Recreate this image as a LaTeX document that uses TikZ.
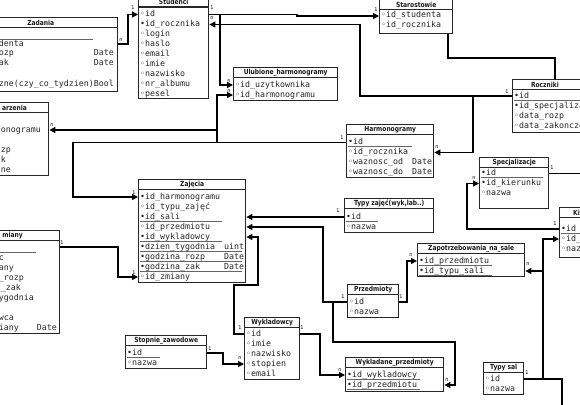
\documentclass[tikz,border=0pt]{standalone}
\usepackage{fontspec}
\setmainfont{DejaVu Sans}
\setmonofont{DejaVu Sans Mono}
\usepackage{tikz}
\usetikzlibrary{arrows.meta}

\newcommand{\ramka}[5]{%
        \node[ramka, minimum width=#4pt, minimum height=#5pt, anchor=north west] (#1) at (#2,#3) {};
        \draw[linia] ([yshift=-10.5pt]#1.north west) -- ([yshift=-10.5pt]#1.north east);
}
\newcommand{\wiersze}[3]{%
        \foreach \w [count=\i] in {#3}
                \node[wiersz] (#1-\i) at ([xshift=2pt, yshift=-#2pt-10pt*\i+10pt]#1.north west) {\w};
}
\newcommand{\podkr}[2]{%
        \draw[podkr] ([yshift=-2pt]#1.base west) -- ++(#2,0);
}

\begin{document}
\begin{tikzpicture}[x=1pt, y=-1pt,
        ramka/.style={draw=black!85, line width=1.4pt, fill=white, inner sep=0pt},
        linia/.style={draw=black!85, line width=1.4pt},
        wiersz/.style={font=\ttfamily\fontsize{8.3}{10}\selectfont, anchor=west, inner sep=0pt, text height=5.5pt, text depth=1.5pt, text=black!85},
        typ/.style={wiersz, anchor=east},
        tytul/.style={font=\fontsize{7}{8}\selectfont\bfseries, inner sep=0pt, xscale=0.85, text=black!90},
        etyk/.style={font=\fontsize{5}{5}\selectfont, inner sep=0pt},
        podkr/.style={draw=black!60, line width=0.6pt},
        pol/.style={draw=black, line width=1.2pt, -{Triangle[length=6pt,width=6pt]}},
        pol-/.style={draw=black, line width=1.2pt}]
        \useasboundingbox (0,0) rectangle (580,404);

        \ramka{zad}{-37}{17}{154}{74}
        \node[tytul] (zad-t) at ([yshift=-5.5pt]zad.north) {Zadania};
        \draw[podkr] (-5,39) -- (93,39);
        \node[typ] (zad-1) at (24,44) {denta};
        \node[typ] (zad-2) at (14,54) {ozp};
        \node[typ] (zad-2t) at (114,54) {Date};
        \node[typ] (zad-3) at (9,64) {ak};
        \node[typ] (zad-3t) at (114,64) {Date};
        \node[typ] (zad-5) at (114,84) {zne(czy\_co\_tydzien)Bool};

        \ramka{wyd}{-34}{102}{82}{73}
        \node[tytul, anchor=east] (wyd-t) at (27,107.5) {arzenia};
        \node[typ] (wyd-1) at (41,130) {onogramu};
        \node[typ] (wyd-3) at (11,150) {zp};
        \node[typ] (wyd-4) at (6,160) {k};
        \node[typ] (wyd-5) at (11,170) {ne};

        \ramka{zm}{-41}{230}{100}{103}
        \node[tytul, anchor=east] (zm-t) at (23,235.5) {miany};
        \draw[podkr] (-5,252) -- (36,252);
        \node[typ] (zm-2) at (4,258) {c};
        \node[typ] (zm-3) at (14,268) {any};
        \node[typ] (zm-4) at (24,278) {\_rozp};
        \node[typ] (zm-5) at (21,288) {\_zak};
        \node[typ] (zm-6) at (34,298) {ygodnia};
        \node[typ] (zm-8) at (14,318) {wca};
        \node[typ] (zm-9) at (19,328) {iany};
        \node[typ] (zm-9t) at (57,328) {Date};

        \ramka{stud}{138}{-3.5}{70}{101.5}
        \node[tytul] (stud-t) at ([yshift=-5.5pt]stud.north) {Studenci};
        \wiersze{stud}{18}{◦id, •id\_rocznika, ◦login, ◦haslo, ◦email, ◦imie, ◦nazwisko, ◦nr\_albumu, ◦pesel}

        \ramka{staro}{379}{-1}{73}{34}
        \node[tytul] (staro-t) at ([yshift=-5.5pt]staro.north) {Starostowie};
        \wiersze{staro}{17}{◦id\_studenta, ◦id\_rocznika}

        \ramka{ulub}{233}{67}{104}{33}
        \node[tytul] (ulub-t) at ([yshift=-5.5pt]ulub.north) {Ulubione\_harmonogramy};
        \wiersze{ulub}{18}{◦id\_uzytkownika, ◦id\_harmonogramu}

        \ramka{harm}{346}{124}{87}{53}
        \node[tytul] (harm-t) at ([yshift=-5.5pt]harm.north) {Harmonogramy};
        \wiersze{harm}{18.5}{•id, ◦id\_rocznika, ◦waznosc\_od, ◦waznosc\_do}
        \node[typ] (harm-3t) at ([xshift=-2pt]harm.east |- harm-3) {Date};
        \node[typ] (harm-4t) at ([xshift=-2pt]harm.east |- harm-4) {Date};
        \podkr{harm-1}{64}

        \ramka{rocz}{512}{79}{100}{53}
        \node[tytul] (rocz-t) at (545,84.5) {Roczniki};
        \wiersze{rocz}{17}{•id, •id\_specjaliza, ◦data\_rozp, ◦data\_zakoncze}
        \podkr{rocz-1}{66}

        \ramka{spec}{479}{157}{69}{51}
        \node[tytul] (spec-t) at ([yshift=-5.5pt]spec.north) {Specjalizacje};
        \wiersze{spec}{16.5}{•id, •id\_kierunku, ◦nazwa}
        \podkr{spec-1}{62}

        \ramka{kier}{559}{207}{60}{50}
        \node[tytul, anchor=west] (kier-t) at (573,212.5) {Kierunki};
        \wiersze{kier}{22}{•id, ◦id\_, ◦naz}
        \podkr{kier-1}{22}

        \ramka{zaj}{138}{179}{107}{103}
        \node[tytul] (zaj-t) at ([yshift=-5.5pt]zaj.north) {Zajęcia};
        \wiersze{zaj}{18}{•id\_harmonogramu, ◦id\_typu\_zajęć, •id\_sali, ◦id\_przedmiotu, •id\_wykladowcy, •dzien\_tygodnia, •godzina\_rozp, •godzina\_zak, ◦id\_zmiany}
        \node[typ] (zaj-6t) at ([xshift=-2pt]zaj.east |- zaj-6) {uint};
        \node[typ] (zaj-7t) at ([xshift=-2pt]zaj.east |- zaj-7) {Date};
        \node[typ] (zaj-8t) at ([xshift=-2pt]zaj.east |- zaj-8) {Date};
        \podkr{zaj-3}{82}
        \podkr{zaj-5}{82}
        \podkr{zaj-6}{102}
        \podkr{zaj-7}{102}
        \podkr{zaj-8}{102}

        \ramka{typz}{344}{198}{89}{34}
        \node[tytul] (typz-t) at ([yshift=-5.5pt]typz.north) {Typy zajęć(wyk,lab..)};
        \wiersze{typz}{19}{•id, ◦nazwa}
        \podkr{typz-1}{32}

        \ramka{zap}{417}{243}{107}{33}
        \node[tytul] (zap-t) at ([yshift=-5.5pt]zap.north) {Zapotrzebowania\_na\_sale};
        \wiersze{zap}{18}{•id\_przedmiotu, •id\_typu\_sali}
        \podkr{zap-1}{73}
        \podkr{zap-2}{73}

        \ramka{przed}{347}{284}{51}{33}
        \node[tytul] (przed-t) at ([yshift=-5.5pt]przed.north) {Przedmioty};
        \wiersze{przed}{18}{◦id, ◦nazwa}

        \ramka{wykl}{244}{317}{55}{62}
        \node[tytul] (wykl-t) at ([yshift=-5.5pt]wykl.north) {Wykladowcy};
        \wiersze{wykl}{17}{◦id, ◦imie, ◦nazwisko, ◦stopien, ◦email}

        \ramka{stop}{125}{335}{81}{33}
        \node[tytul] (stop-t) at ([yshift=-5.5pt]stop.north) {Stopnie\_zawodowe};
        \wiersze{stop}{18}{•id, ◦nazwa}
        \podkr{stop-1}{33}

        \ramka{wyklp}{345}{357}{98}{34}
        \node[tytul] (wyklp-t) at ([yshift=-5.5pt]wyklp.north) {Wykladane\_przedmioty};
        \wiersze{wyklp}{18}{•id\_wykladowcy, •id\_przedmiotu}
        \podkr{wyklp-1}{73}
        \podkr{wyklp-2}{73}

        \ramka{tsal}{483}{362}{40}{32}
        \node[tytul] (tsal-t) at ([yshift=-5.5pt]tsal.north) {Typy sal};
        \wiersze{tsal}{17}{◦id, ◦nazwa}

        \coordinate (z1) at (128,0);
        \coordinate (z2) at (297,0);
        \coordinate (z3) at (220,0);
        \coordinate (z4) at (360,0);
        \coordinate (z5) at (473,0);
        \coordinate (z6a) at (217,0);
        \coordinate (z6b) at (73,0);
        \coordinate (z8) at (323,0);
        \coordinate (z9a) at (333,0);
        \coordinate (z9b) at (455,342);
        \coordinate (z10) at (407,0);
        \coordinate (z11a) at (234,285);
        \coordinate (z11b) at (258,285);
        \coordinate (z12) at (320,0);
        \coordinate (z13) at (223,0);
        \coordinate (z14) at (118,0);
        \coordinate (z15) at (467,0);
        \coordinate (z16) at (590,0);
        \coordinate (z17a) at (562,410);
        \coordinate (z17b) at (543,0);
        \coordinate (z18a) at (448,58);
        \coordinate (z18b) at (555,58);

        \draw[pol] (zad.east |- zad-1) -| (z1 |- stud-1) -- (stud.west |- stud-1);
        \draw[pol] (stud.east |- stud-1) -- (z2 |- stud-1) -- (z2 |- staro-1) -- (staro.west |- staro-1);
        \draw[pol] (z3 |- stud-1) -- (z3 |- ulub-1) -- (ulub.west |- ulub-1);
        \draw[pol] (rocz.west |- rocz-1) -| (z4 |- stud-2) -- (stud.east |- stud-2);
        \draw[pol] (z5 |- rocz-1) |- (harm.east |- harm-2);
        \draw[pol-] (z18b |- rocz.north) -- (z18b) -- (z18a) -- (z18a |- staro.south);
        \draw[pol] (harm.west |- harm-1) -| (z6b |- zaj-1) -- (zaj.west |- zaj-1);
        \draw[pol] (z6a |- harm-1) -- (z6a |- ulub-2) -- (ulub.west |- ulub-2);
        \draw[pol] (z6a |- wyd-1) -- (wyd.east |- wyd-1);
        \draw[pol] (typz.west |- typz-1) -- (zaj.east |- typz-1);
        \draw[pol] (przed.west |- przed-1) -| (z8 |- zaj-4) -- (zaj.east |- zaj-4);
        \draw[pol] (z9a |- przed-1) |- (z9b) |- (wyklp.east |- wyklp-2);
        \draw[pol] (przed.east |- przed-1) -| (z10 |- zap-1) -- (zap.west |- zap-1);
        \draw[pol] (wykl.west |- wykl-1) -| (z11a) -- (z11b) |- (zaj.east |- zaj-5);
        \draw[pol] (wykl.east |- wykl-1) -| (z12 |- wyklp-1) -- (wyklp.west |- wyklp-1);
        \draw[pol] (stop.east |- stop-1) -| (z13 |- wykl-4) -- (wykl.west |- wykl-4);
        \draw[pol] ([yshift=-17pt]zm.north east) -| (z14 |- zaj-9) -- (zaj.west |- zaj-9);
        \draw[pol] (kier.west |- kier-1) -| (z15 |- spec-2) -- (spec.west |- spec-2);
        \draw[pol-] (spec.east |- spec-1) -- (z16 |- spec-1);
        \draw[pol-] (tsal.east |- tsal-1) -| (z17a);
        \draw[pol] (z17b |- tsal-1) |- (zap.east |- zap-2);
        \draw[pol] (z17b |- zap-2) |- (kier.west |- kier-2);

        \node[etyk] (e1) at (121,40) {n};
        \node[etyk] (e2) at (133,8) {1};
        \node[etyk] (e3) at (212,8) {1};
        \node[etyk] (e4) at (376,10) {1};
        \node[etyk] (e5) at (212,18) {n};
        \node[etyk] (e6) at (229,81) {n};
        \node[etyk] (e7) at (229,91) {n};
        \node[etyk] (e8) at (507,92) {1};
        \node[etyk] (e9) at (437,147) {n};
        \node[etyk] (e10) at (342,138) {1};
        \node[etyk] (e11) at (52,125) {n};
        \node[etyk] (e12) at (134,193) {1};
        \node[etyk] (e13) at (134,273) {1};
        \node[etyk] (e14) at (62,243) {1};
        \node[etyk] (e15) at (338,211) {1};
        \node[etyk] (e16) at (343,297) {1};
        \node[etyk] (e17) at (401,297) {1};
        \node[etyk] (e18) at (411,255) {n};
        \node[etyk] (e19) at (240,328) {1};
        \node[etyk] (e20) at (302,328) {1};
        \node[etyk] (e21) at (210,349) {1};
        \node[etyk] (e22) at (240,358) {n};
        \node[etyk] (e23) at (340,370) {n};
        \node[etyk] (e24) at (447,380) {n};
        \node[etyk] (e25) at (527,373) {1};
        \node[etyk] (e26) at (552,168) {1};
        \node[etyk] (e27) at (474,178) {n};
        \node[etyk] (e28) at (555,224) {1};
        \node[etyk] (e29) at (528,264) {n};
\end{tikzpicture}
\end{document}
